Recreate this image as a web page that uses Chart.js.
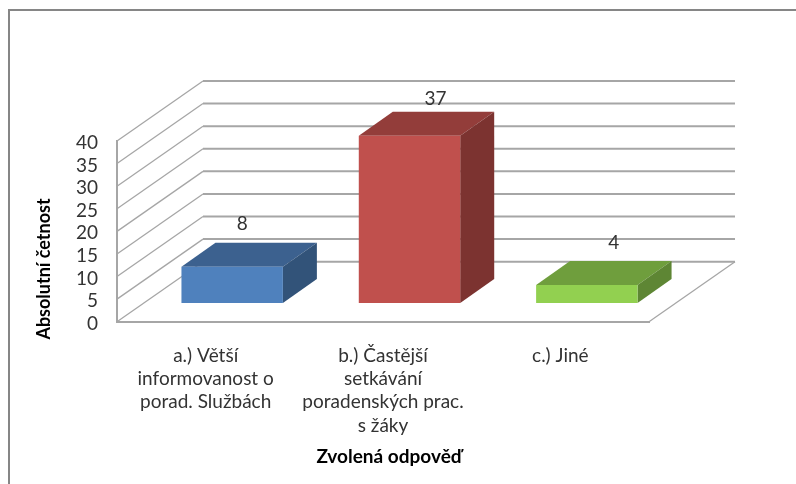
<!DOCTYPE html>
<html>
<head>
<meta charset="utf-8">
<script src="https://cdn.jsdelivr.net/npm/chart.js@4"></script>
<style>
    html, body { margin: 0; padding: 0; background: #fff; overflow: hidden; }
    #wrap { position: relative; width: 796px; height: 484px; }
    #frame { position: absolute; left: 8px; top: 9px; right: 0; bottom: 0; border-left: 2px solid #868686; border-top: 2px solid #868686; }
    #answerChart { position: absolute; left: 0; top: 0; }
</style>
</head>
<body>
<div id="wrap">
    <div id="frame"></div>
    <canvas id="answerChart" width="796" height="484"></canvas>
</div>
<script>
const categories = [
    ['a.) Větší', 'informovanost o', 'porad. Službách'],
    ['b.) Častější', 'setkávání', 'poradenských prac.', 's žáky'],
    ['c.) Jiné']
];
const counts = [8, 37, 4];
const frontColors = ['#4f81bd', '#c0504d', '#92d050'];
const topColors = ['#3c618f', '#933d3a', '#6f9e3d'];
const sideColors = ['#325379', '#7c3330', '#5e8634'];
// where the value labels sit relative to the back of the bar top
const labelShift = [[-24, -19], [-8, -13], [-7, -18]];
const axisTitleY = 'Absolutní četnost';
const axisTitleX = 'Zvolená odpověď';

// 3D box look: wall depth and how far the bars stand from the front edge
const DEPTH = { x: 86, y: -60 };
const BAR_DEPTH = { x: 34, y: -24 };
const BAR_SHIFT = { x: 26.5, y: -18.7 };
const GRID = '#a6a6a6';
const FONT = 'Lato';

function poly(ctx, pts, fill) {
    ctx.beginPath();
    pts.forEach((p, i) => i ? ctx.lineTo(p[0], p[1]) : ctx.moveTo(p[0], p[1]));
    ctx.closePath();
    ctx.fillStyle = fill;
    ctx.fill();
}

function line(ctx, x1, y1, x2, y2, width) {
    ctx.lineWidth = width;
    ctx.beginPath();
    ctx.moveTo(x1, y1);
    ctx.lineTo(x2, y2);
    ctx.stroke();
}

const box3d = {
    id: 'box3d',
    beforeDatasetsDraw(chart) {
        const { ctx, chartArea, scales } = chart;
        ctx.save();
        // walls
        ctx.strokeStyle = GRID;
        scales.y.ticks.forEach(t => {
            const y = scales.y.getPixelForValue(t.value);
            line(ctx, chartArea.left, y, chartArea.left + DEPTH.x, y + DEPTH.y, 1.3);
            line(ctx, chartArea.left + DEPTH.x, y + DEPTH.y, chartArea.right + DEPTH.x, y + DEPTH.y, 2);
        });
        // right edge of the floor
        line(ctx, chartArea.right, chartArea.bottom, chartArea.right + DEPTH.x, chartArea.bottom + DEPTH.y, 1.3);
        ctx.restore();

        // side and top of the bars, then shift so the library's own bars land on the floor
        ctx.save();
        ctx.translate(BAR_SHIFT.x, BAR_SHIFT.y);
        chart.getDatasetMeta(0).data.forEach((bar, i) => {
            const l = bar.x - bar.width / 2, r = bar.x + bar.width / 2;
            const dx = BAR_DEPTH.x, dy = BAR_DEPTH.y;
            poly(ctx, [[l, bar.y], [r, bar.y], [r + dx, bar.y + dy], [l + dx, bar.y + dy]], topColors[i]);
            poly(ctx, [[r, bar.y], [r + dx, bar.y + dy], [r + dx, bar.base + dy], [r, bar.base]], sideColors[i]);
        });
    },
    afterDatasetsDraw(chart) {
        const { ctx } = chart;
        ctx.restore();
        ctx.save();
        ctx.font = '19px ' + FONT;
        ctx.fillStyle = '#333';
        ctx.textAlign = 'center';
        ctx.textBaseline = 'middle';
        chart.getDatasetMeta(0).data.forEach((bar, i) => {
            const x = bar.x + BAR_SHIFT.x + BAR_DEPTH.x + labelShift[i][0];
            const y = bar.y + BAR_SHIFT.y + BAR_DEPTH.y + labelShift[i][1];
            ctx.fillText(String(counts[i]), x, y);
        });

        // axis titles are not centred on the plot in the original
        ctx.fillStyle = '#000';
        ctx.font = 'bold 19px ' + FONT;
        ctx.fillText(axisTitleX, 389, 457);
        ctx.translate(44.5, 269);
        ctx.rotate(-Math.PI / 2);
        ctx.font = 'bold 18px ' + FONT;
        ctx.fillText(axisTitleY, 0, 0);
        ctx.restore();
    }
};

new Chart(document.getElementById('answerChart').getContext('2d'), {
    type: 'bar',
    plugins: [box3d],
    data: {
        labels: categories,
        datasets: [{
            data: counts,
            backgroundColor: frontColors,
            borderWidth: 0,
            categoryPercentage: 1,
            barPercentage: 0.572
        }]
    },
    options: {
        responsive: false,
        animation: false,
        layout: { padding: { top: 141, right: 147, left: 0, bottom: 0 } },
        plugins: { legend: { display: false }, tooltip: { enabled: false } },
        scales: {
            x: {
                afterFit(scale) { scale.height = 162.3; },
                grid: { display: false, drawTicks: false },
                border: { color: GRID, width: 2 },
                ticks: {
                    color: '#333',
                    font: { family: FONT, size: 19, lineHeight: 1.23 },
                    padding: 22,
                    maxRotation: 0,
                    autoSkip: false
                }
            },
            y: {
                min: 0,
                max: 40,
                afterFit(scale) { scale.width = 117; },
                grid: { display: false, drawTicks: false },
                border: { color: GRID, width: 2 },
                ticks: {
                    stepSize: 5,
                    autoSkip: false,
                    color: '#333',
                    font: { family: FONT, size: 19 },
                    padding: 19,
                    labelOffset: 2
                }
            }
        }
    }
});
</script>
</body>
</html>
